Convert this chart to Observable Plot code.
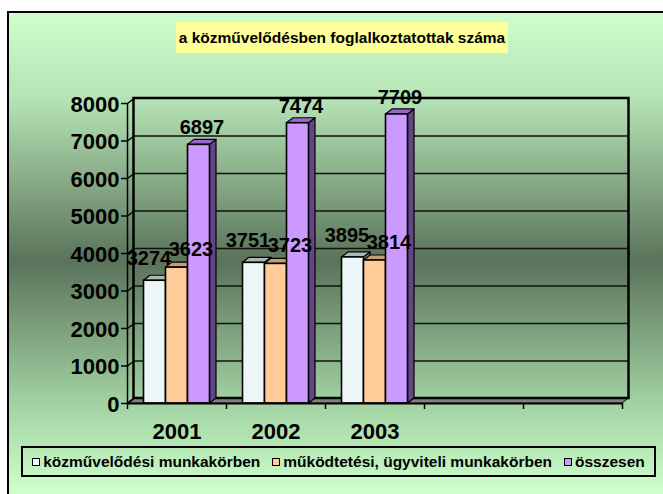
<!DOCTYPE html>
<html>
<head>
<meta charset="utf-8">
<script src="https://cdn.jsdelivr.net/npm/d3@7"></script>
<script src="https://cdn.jsdelivr.net/npm/@observablehq/plot@0.6"></script>
<style>
  html, body { margin: 0; padding: 0; background: #fff; width: 663px; height: 494px; overflow: hidden;
    font-family: "Liberation Sans", Arial, sans-serif; }
  #bg { position: absolute; left: 7px; top: 11px; width: 700px; height: 520px; border: 2px solid #000;
    background: linear-gradient(to bottom, #ccffcc 0px, #b4e2b4 88px, #5a735a 248px, #a2d2a2 390px, #ccffcc 478px); }
  #title { position: absolute; left: 176px; top: 22px; width: 332px; height: 31px; background: #ffff99;
    font-weight: bold; font-size: 15.5px; display: flex; align-items: center; justify-content: center; color: #000; }
  #chart { position: absolute; left: 0; top: 0; }
  #legend { position: absolute; left: 21px; top: 446px; width: 631px; height: 27px; border: 2px solid #000;
    display: flex; align-items: center; justify-content: center; gap: 12px; font-weight: bold; font-size: 15.5px; color: #000; }
  #legend .item { display: flex; align-items: center; white-space: nowrap; }
  #legend .sw { display: inline-block; width: 6px; height: 6px; border: 1px solid #000; margin-right: 3px; }
  g[aria-label="ylab"] text { letter-spacing: 1.5px; }
  g[aria-label="xlab"] text { letter-spacing: 2px; }
  g[aria-label="vlab"] text { letter-spacing: 1.5px; }
</style>
</head>
<body>
<div id="bg"></div>
<div id="chart"></div>
<div id="title"></div>
<div id="legend"></div>
<script>
// ---- data ----
const chartTitle = "a közművelődésben foglalkoztatottak száma";
const categories = ["2001", "2002", "2003", "", ""];
const series = ["közművelődési munkakörben", "működtetési, ügyviteli munkakörben", "összesen"];
const kozmuvelodesi = [3274, 3751, 3895];
const mukodtetesi = [3623, 3723, 3814];
const osszesen = [6897, 7474, 7709];
const yTicks = [0, 1000, 2000, 3000, 4000, 5000, 6000, 7000, 8000];

// ---- styles ----
const frontColors = ["#ecf6f6", "#ffcc99", "#cc99ff"];
const topColors = ["#aab8b8", "#c89c70", "#9966cc"];
const sideColors = ["#8a9a9a", "#b0805a", "#664488"];
const labelDx = [-6, 14, 3];
const labelDy = [-22, -18, -17];

// layout
const W = 663, H = 494;
const mTop = 103, mRight = 41, mBottom = 91, mLeft = 127;
const yMax = 8000;
const nSlots = categories.length;
const plotW = W - mLeft - mRight, plotH = H - mTop - mBottom;
const ux = nSlots / plotW, uy = yMax / plotH;   // data units per pixel
const DX = 6.5 * ux, DY = 5 * uy;                // 3D depth
const TICK = 6;

const values = [kozmuvelodesi, mukodtetesi, osszesen];
const band = d3.scaleBand().domain(series).range([0, 1]).paddingInner(0).paddingOuter(0.75);

const bars = [];
categories.forEach((c, i) => {
  if (!c) return;
  series.forEach((s, j) => {
    const v = values[j][i];
    if (v == null) return;
    const x1 = i + band(s), x2 = x1 + band.bandwidth();
    bars.push({cat: c, i, j, s, value: v, x1, x2, key: c + "|" + s});
  });
});

const sidePts = j => bars.filter(b => b.j === j).flatMap(b => [
  {key: b.key, x: b.x2, y1: 0, y2: b.value},
  {key: b.key, x: b.x2 + DX, y1: DY, y2: b.value + DY}
]);
const topPts = j => bars.filter(b => b.j === j).flatMap(b => [
  {key: b.key, y: b.value, x1: b.x1, x2: b.x2},
  {key: b.key, y: b.value + DY, x1: b.x1 + DX, x2: b.x2 + DX}
]);

const marks = [];
// floor
marks.push(Plot.areaX([{y: 0, x1: 0, x2: nSlots}, {y: DY, x1: DX, x2: nSlots + DX}],
  {y: "y", x1: "x1", x2: "x2", fill: "#808080", stroke: "#000", strokeWidth: 1}));
// side wall grid connections
marks.push(Plot.link(yTicks, {x1: () => 0, y1: d => d, x2: () => DX, y2: d => d + DY, stroke: "#000", strokeWidth: 1.5}));
// back wall grid lines
marks.push(Plot.ruleY(yTicks.filter(v => v > 0 && v < yMax), {y: d => d + DY, x1: () => DX, x2: () => nSlots + DX, stroke: "#111", strokeWidth: 1.6}));
// back wall frame
marks.push(Plot.rect([0], {x1: () => DX, x2: () => nSlots + DX, y1: () => DY, y2: () => yMax + DY, fill: "none", stroke: "#000", strokeWidth: 2.5}));
// side faces
series.forEach((s, j) => marks.push(Plot.areaY(sidePts(j), {x: "x", y1: "y1", y2: "y2", z: "key", fill: sideColors[j], stroke: "#000", strokeWidth: 1.2, strokeLinejoin: "round"})));
// top faces
series.forEach((s, j) => marks.push(Plot.areaX(topPts(j), {y: "y", x1: "x1", x2: "x2", z: "key", fill: topColors[j], stroke: "#000", strokeWidth: 1.2, strokeLinejoin: "round"})));
// fronts
series.forEach((s, j) => marks.push(Plot.rect(bars.filter(b => b.j === j), {x1: "x1", x2: "x2", y1: () => 0, y2: "value", fill: frontColors[j], stroke: "#000", strokeWidth: 1.6})));
// x axis
marks.push(Plot.ruleY([0], {x1: () => 0, x2: () => nSlots, stroke: "#000", strokeWidth: 2}));
marks.push(Plot.ruleX(d3.range(nSlots + 1), {x: d => d, y1: () => 0, y2: () => -TICK * uy, stroke: "#000", strokeWidth: 1.5}));
marks.push(Plot.text(categories.map((c, i) => ({c, i})).filter(d => d.c), {x: d => d.i + 0.5, y: () => 0, text: "c", dy: 28, fontSize: 22, fontWeight: "bold", fill: "#000", ariaLabel: "xlab"}));
// y axis
marks.push(Plot.ruleX([0], {x: () => 0, y1: () => 0, y2: () => yMax, stroke: "#000", strokeWidth: 1.5}));
marks.push(Plot.ruleY(yTicks, {y: d => d, x1: () => -TICK * ux, x2: () => 0, stroke: "#000", strokeWidth: 1.5}));
marks.push(Plot.text(yTicks, {x: () => 0, y: d => d, text: d => String(d), textAnchor: "end", dx: -8, dy: 1, fontSize: 22, fontWeight: "bold", fill: "#000", ariaLabel: "ylab"}));
// value labels
series.forEach((s, j) => marks.push(Plot.text(bars.filter(b => b.j === j), {x: d => (d.x1 + d.x2) / 2, y: "value", text: d => String(d.value), dx: labelDx[j], dy: labelDy[j], fontSize: 20, fontWeight: "bold", fill: "#000", ariaLabel: "vlab"})));

const svg = Plot.plot({
  width: W, height: H,
  marginTop: mTop, marginRight: mRight, marginBottom: mBottom, marginLeft: mLeft,
  x: {type: "linear", domain: [0, nSlots], axis: null},
  y: {type: "linear", domain: [0, yMax], axis: null},
  style: {background: "transparent", overflow: "visible", fontFamily: "'Liberation Sans', Arial, sans-serif", color: "#000"},
  marks
});
document.getElementById("chart").appendChild(svg);

document.getElementById("title").textContent = chartTitle;
const legend = document.getElementById("legend");
series.forEach((s, j) => {
  const it = document.createElement("div");
  it.className = "item";
  const sw = document.createElement("span");
  sw.className = "sw";
  sw.style.background = frontColors[j];
  it.appendChild(sw);
  it.appendChild(document.createTextNode(s));
  legend.appendChild(it);
});
</script>
</body>
</html>
